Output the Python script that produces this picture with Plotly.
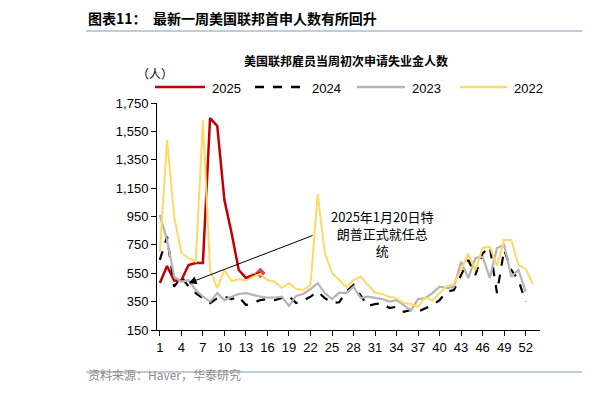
import plotly.graph_objects as go

weeks = list(range(1, 54))
y2025 = [481, 601, 497, 502, 608, 622, 622, 1644, 1588, 1066, 834, 573, 517, 538, 552]
y2024 = [644, 808, 455, 526, 455, 410, 375, 340, 375, 385, 368, 385, 326, 340, 361, 368, 361, 375, 390, 340,
         357, 385, 420, 375, 340, 345, 420, 467, 396, 319, 333, 340, 305, 314, 279, 291, 279, 305, 326, 361,
         420, 432, 538, 644, 538, 690, 737, 410, 714, 573, 502, 350]
y2023 = [960, 784, 526, 490, 502, 432, 385, 350, 410, 361, 385, 404, 410, 396, 385, 378, 378, 385, 319, 390,
         404, 439, 481, 410, 368, 413, 410, 455, 375, 385, 378, 368, 350, 361, 326, 287, 368, 375, 410, 455,
         446, 455, 631, 517, 657, 667, 517, 728, 749, 526, 573, 420]
y2022 = [701, 1490, 950, 693, 658, 632, 1626, 573, 446, 573, 495, 510, 497, 526, 545, 502, 490, 446, 481, 439,
         432, 467, 1108, 695, 552, 502, 453, 502, 526, 467, 413, 404, 385, 375, 340, 333, 314, 383, 357, 410,
         460, 474, 573, 686, 573, 728, 737, 601, 784, 785, 608, 580, 474]
xticks = list(range(1, 53, 3))

F = "Noto Sans CJK SC"
OFF = 8  # page offset of the rendered figure
L, R, T, B = 157 - OFF, 540 - OFF, 103 - OFF, 330 - OFF
def px(x): return (x - OFF - L) / (R - L)
def py(y): return (B - (y - OFF)) / (B - T)

fig = go.Figure()
fig.add_trace(go.Scatter(x=weeks[:len(y2025)], y=y2025, name="2025", mode="lines+markers",
                         line=dict(color="#C00000", width=2.5),
                         marker=dict(symbol="diamond", size=[0]*(len(y2025)-1)+[9], color="#C00000")))
fig.add_trace(go.Scatter(x=weeks[:len(y2024)], y=y2024, name="2024", mode="lines",
                         line=dict(color="black", width=2.2, dash="dash")))
fig.add_trace(go.Scatter(x=weeks[:len(y2023)], y=y2023, name="2023", mode="lines",
                         line=dict(color="#B4B4B4", width=2.2)))
fig.add_trace(go.Scatter(x=weeks[:len(y2022)], y=y2022, name="2022", mode="lines",
                         line=dict(color="#FFD966", width=2)))

fig.update_layout(
    width=615, height=403, paper_bgcolor="white", plot_bgcolor="white",
    margin=dict(l=L, r=615 - R, t=T, b=403 - B),
    font=dict(family=F, size=13, color="black"),
    showlegend=False,
    xaxis=dict(range=[0.6, 54], tickvals=xticks, showline=True, linecolor="black", ticks="outside",
               ticklen=5, tickcolor="black", showgrid=False, zeroline=False,
               tickfont=dict(size=13, family="Liberation Sans")),
    yaxis=dict(range=[150, 1750], tickvals=list(range(150, 1751, 200)), tickformat=",",
               showline=True, linecolor="black", ticks="outside", ticklen=5, tickcolor="black",
               showgrid=False, zeroline=False, tickfont=dict(size=13, family="Liberation Sans")),
)
# manual legend
leg = [("2025", "#C00000", "solid", 155, 205), ("2024", "black", "dash", 255, 305),
       ("2023", "#B4B4B4", "solid", 357, 405), ("2022", "#FFD966", "solid", 460, 507)]
for name, c, d, x0, x1 in leg:
    fig.add_shape(type="line", xref="paper", yref="paper", x0=px(x0), x1=px(x1), y0=py(87), y1=py(87),
                  line=dict(color=c, width=2.5, dash=d))
    fig.add_annotation(xref="paper", yref="paper", x=px(x1 + 5), y=py(79), xanchor="left", text=name,
                       showarrow=False, font=dict(size=13, family="Liberation Sans"))
fig.add_trace(go.Scatter(x=[px(205)], y=[py(87)], xaxis="x2", yaxis="y2", mode="markers",
                         marker=dict(symbol="diamond", size=10, color="#C00000"), showlegend=False,
                         cliponaxis=False, hoverinfo="skip"))
fig.update_layout(xaxis2=dict(range=[0, 1], overlaying="x", visible=False),
                  yaxis2=dict(range=[0, 1], overlaying="y", visible=False))

fig.add_annotation(xref="paper", yref="paper", x=px(86), y=py(18), xanchor="left", yanchor="middle",
                   text="<b>图表11：  最新一周美国联邦首申人数有所回升</b>", showarrow=False,
                   font=dict(size=14, color="black"))
fig.add_shape(type="line", xref="paper", yref="paper", x0=px(86), x1=px(582), y0=py(31), y1=py(31),
              line=dict(color="#A9BCD0", width=1.5))
fig.add_annotation(xref="paper", yref="paper", x=px(346), y=py(50), text="<b>美国联邦雇员当周初次申请失业金人数</b>",
                   showarrow=False, font=dict(size=12))
fig.add_annotation(xref="paper", yref="paper", x=px(135), y=py(63), text="（人）", showarrow=False,
                   font=dict(size=12))
fig.add_shape(type="line", xref="paper", yref="paper", x0=px(86), x1=px(582), y0=py(372), y1=py(372),
              line=dict(color="#A9BCD0", width=1.5))
fig.add_annotation(xref="paper", yref="paper", x=px(86), y=py(385), xanchor="left", text="资料来源：Haver，华泰研究",
                   showarrow=False, font=dict(size=12, color="#8C8C8C"))
fig.add_annotation(x=32, y=830, text="2025年1月20日特<br>朗普正式就任总<br>统", showarrow=False,
                   font=dict(size=13))
fig.add_annotation(x=5, y=480, ax=22.5, ay=820, xref="x", yref="y", axref="x", ayref="y",
                   text="", showarrow=True, arrowhead=2, arrowsize=1.6, arrowwidth=1, arrowcolor="black")
fig.write_html("out.html")
